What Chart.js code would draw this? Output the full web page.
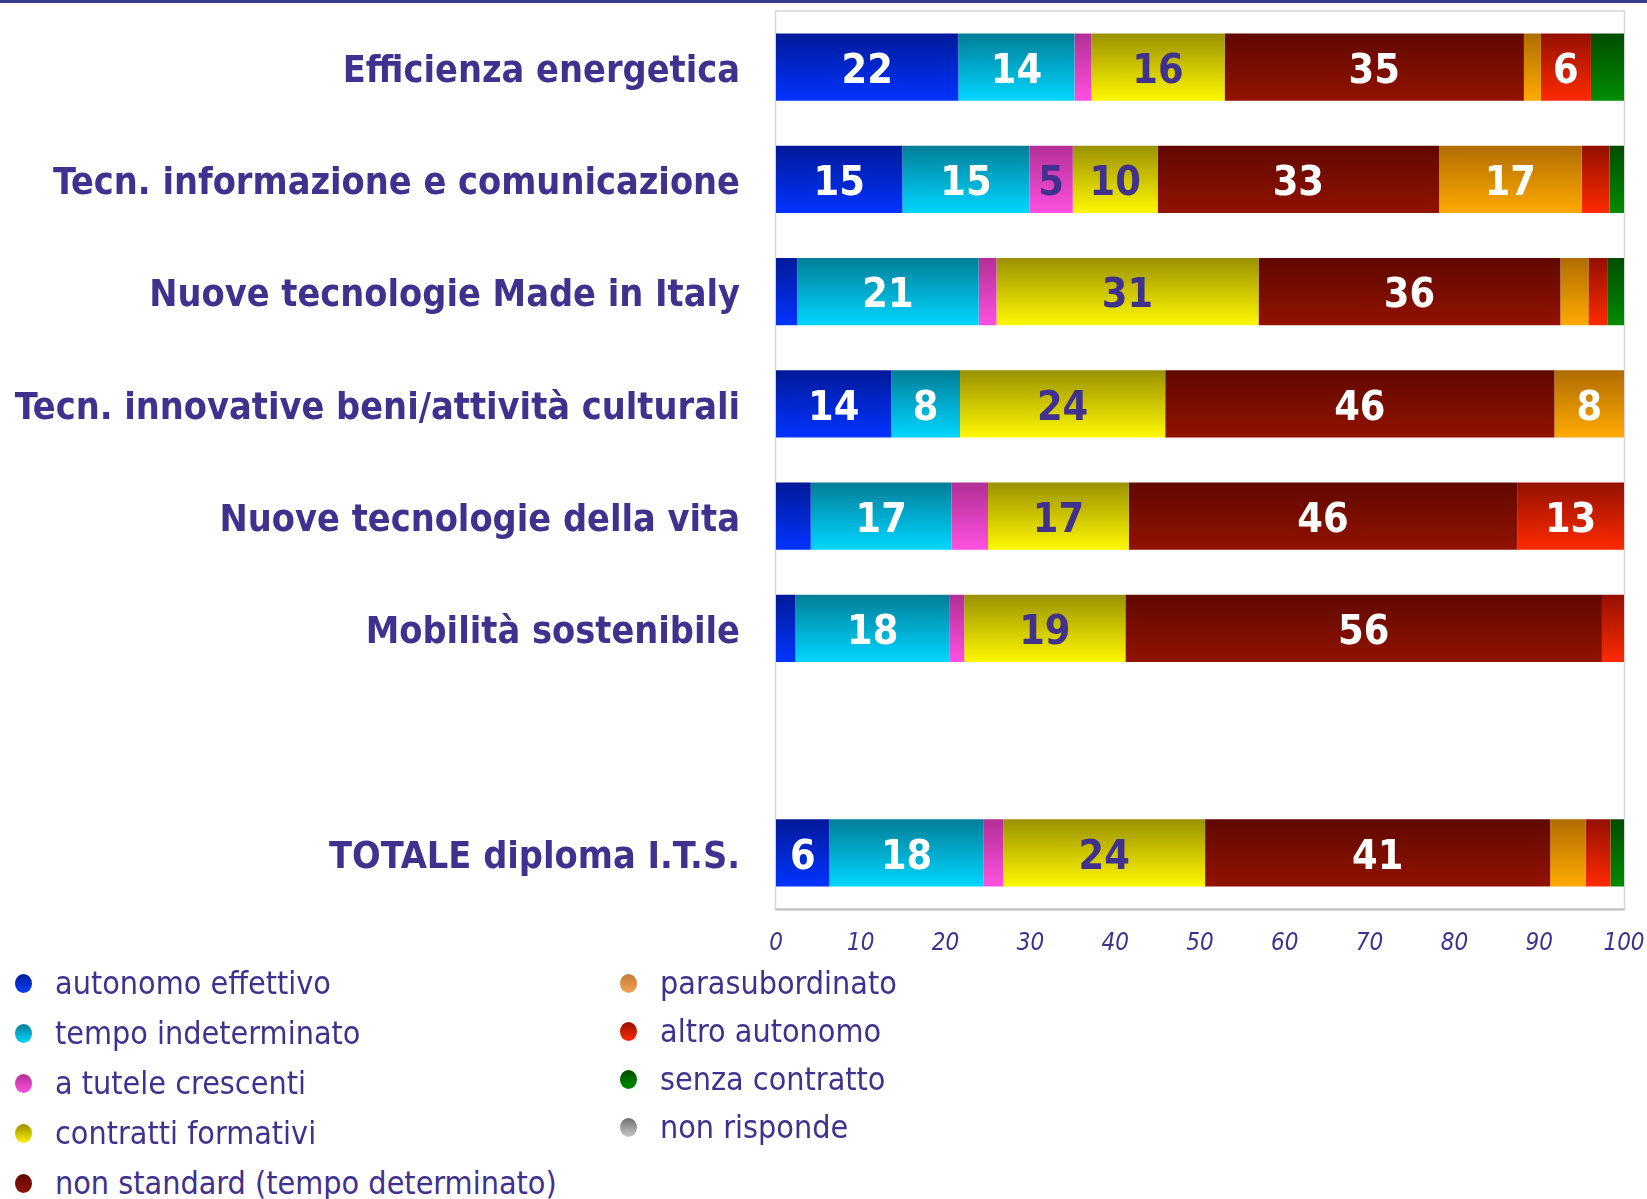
<!DOCTYPE html>
<html>
<head>
<meta charset="utf-8">
<script src="https://cdn.jsdelivr.net/npm/chart.js@4"></script>
<style>
  html, body { margin: 0; padding: 0; background: #fff; }
  body { width: 1647px; height: 1199px; overflow: hidden; position: relative; font-family: "DejaVu Sans Condensed", "DejaVu Sans", sans-serif; }
  .topline { position: absolute; left: 0; top: 0; width: 1647px; height: 3px; background: #3b3d8a; }
  #wrap { position: absolute; left: 0; top: 0; width: 1647px; height: 965px; }
  .legend-col { position: absolute; top: 962px; }
  .legend-item { position: relative; height: 42px; color: #41318f; font-size: 32px; white-space: nowrap; }
  .legend-item .dot { position: absolute; left: 0; top: 12px; width: 17px; height: 19px; border-radius: 50%; }
  .legend-item .txt { position: absolute; left: 40px; top: 0; line-height: 42px; }
</style>
</head>
<body>
<div class="topline"></div>
<div id="wrap"><canvas id="chart"></canvas></div>
<div class="legend-col" id="legend1" style="left:15px"></div>
<div class="legend-col" id="legend2" style="left:620px"></div>
<script>
// categories (empty slot separates the total row)
const categories = [
  'Efficienza energetica',
  'Tecn. informazione e comunicazione',
  'Nuove tecnologie Made in Italy',
  'Tecn. innovative beni/attività culturali',
  'Nuove tecnologie della vita',
  'Mobilità sostenibile',
  '',
  'TOTALE diploma I.T.S.',
];

const seriesNames = [
  'autonomo effettivo',
  'tempo indeterminato',
  'a tutele crescenti',
  'contratti formativi',
  'non standard (tempo determinato)',
  'parasubordinato',
  'altro autonomo',
  'senza contratto',
  'non risponde',
];

// percentages per series, one value per category
const autonomoEffettivo   = [21.5, 14.9, 2.5, 13.6, 4.1, 2.3, null, 6.3];
const tempoIndeterminato  = [13.7, 15.0, 21.4, 8.1, 16.6, 18.2, null, 18.2];
const tuteleCrescenti     = [2.0, 5.1, 2.1, 0, 4.3, 1.7, null, 2.3];
const contrattiFormativi  = [15.7, 10.0, 30.9, 24.2, 16.6, 19.0, null, 23.8];
const nonStandard         = [35.3, 33.2, 35.6, 45.9, 45.8, 56.2, null, 40.7];
const parasubordinato     = [2.0, 16.8, 3.3, 8.2, 0, 0, null, 4.2];
const altroAutonomo       = [5.9, 3.3, 2.3, 0, 12.6, 2.6, null, 2.9];
const senzaContratto      = [3.9, 1.7, 1.9, 0, 0, 0, null, 1.6];
const nonRisponde         = [0, 0, 0, 0, 0, 0, null, 0];

const seriesData = [
  autonomoEffettivo, tempoIndeterminato, tuteleCrescenti, contrattiFormativi,
  nonStandard, parasubordinato, altroAutonomo, senzaContratto, nonRisponde,
];

const xTicks = [0, 10, 20, 30, 40, 50, 60, 70, 80, 90, 100];

// gradient colours: [top, bottom]
const colorTop    = ['#001a99', '#007e98', '#b32f96', '#9a9100', '#600800', '#b06c00', '#941000', '#004d00', '#707070'];
const colorBottom = ['#0033ff', '#00d6ff', '#ff50e0', '#fff800', '#921200', '#ffaa00', '#ff2a00', '#008c00', '#c8c8c8'];
const dotTop      = ['#001a99', '#007e98', '#b32f96', '#9a9100', '#600800', '#c07a3a', '#941000', '#004d00', '#707070'];
const dotBottom   = ['#0040ff', '#00d6ff', '#ff50e0', '#fff000', '#921200', '#f5a550', '#ff2a00', '#008c00', '#c8c8c8'];
const labelColors = ['#fff', '#fff', '#41318f', '#41318f', '#fff', '#fff', '#fff', '#fff', '#fff'];

const PURPLE = '#41318f';
const FONT = '"DejaVu Sans Condensed", "DejaVu Sans", sans-serif';
const BAR_PCT = 0.6;

function barGradient(c, i) {
  const chart = c.chart;
  const area = chart.chartArea;
  const y = chart.scales.y;
  if (!area || !y) return colorBottom[i];
  const center = y.getPixelForValue(c.dataIndex);
  const half = (area.bottom - area.top) / categories.length * BAR_PCT / 2;
  const g = chart.ctx.createLinearGradient(0, center - half, 0, center + half);
  g.addColorStop(0, colorTop[i]);
  g.addColorStop(1, colorBottom[i]);
  return g;
}

const plotFrame = {
  id: 'plotFrame',
  beforeDatasetsDraw(chart) {
    const { ctx, chartArea: a } = chart;
    ctx.save();
    ctx.strokeStyle = '#d6d6d6';
    ctx.lineWidth = 1.5;
    ctx.strokeRect(a.left - 0.5, a.top, a.right - a.left + 1, a.bottom - a.top);
    ctx.strokeStyle = '#c8c8c8';
    ctx.lineWidth = 2.5;
    ctx.beginPath();
    ctx.moveTo(a.left - 1, a.bottom + 0.5);
    ctx.lineTo(a.right + 1, a.bottom + 0.5);
    ctx.stroke();
    ctx.restore();
  },
};

const barLabels = {
  id: 'barLabels',
  afterDatasetsDraw(chart) {
    const ctx = chart.ctx;
    ctx.save();
    ctx.font = 'bold 41px ' + FONT;
    ctx.textAlign = 'center';
    ctx.textBaseline = 'middle';
    chart.data.datasets.forEach((ds, i) => {
      const meta = chart.getDatasetMeta(i);
      meta.data.forEach((bar, j) => {
        const v = ds.data[j];
        if (v == null || v < 4.5) return;
        ctx.fillStyle = labelColors[i];
        ctx.fillText(String(Math.round(v)), (bar.x + bar.base) / 2, bar.y + 5);
      });
    });
    ctx.restore();
  },
};

const datasets = seriesNames.map((name, i) => ({
  label: name,
  data: seriesData[i],
  backgroundColor: (c) => barGradient(c, i),
  borderWidth: 0,
  barPercentage: BAR_PCT,
  categoryPercentage: 1,
}));

new Chart(document.getElementById('chart'), {
  type: 'bar',
  data: { labels: categories, datasets },
  options: {
    indexAxis: 'y',
    responsive: true,
    maintainAspectRatio: false,
    animation: false,
    layout: { padding: { top: 11, right: 23, left: 0, bottom: 0 } },
    plugins: {
      legend: { display: false },
      tooltip: { enabled: false },
    },
    scales: {
      x: {
        stacked: true,
        min: 0,
        max: 100,
        afterBuildTicks: (s) => { s.ticks = xTicks.map(v => ({ value: v })); },
        afterFit: (s) => {
          s.height = 56;
          s.paddingLeft = 0; s.paddingRight = 0;
        },
        grid: { display: false, drawTicks: false },
        border: { display: false },
        ticks: { color: PURPLE, padding: 20, font: { family: FONT, size: 24, style: 'italic' } },
      },
      y: {
        stacked: true,
        afterFit: (s) => {
          s.width = 776;
          s.paddingTop = 0; s.paddingBottom = 0;
        },
        grid: { display: false, drawTicks: false },
        border: { display: false },
        ticks: { color: PURPLE, padding: 36, labelOffset: 5, font: { family: FONT, size: 37.5, weight: 'bold' } },
      },
    },
  },
  plugins: [plotFrame, barLabels],
});

// legend: two columns built from the series list
function buildLegend(el, from, to, rowHeight) {
  for (let i = from; i < to; i++) {
    const item = document.createElement('div');
    item.className = 'legend-item';
    item.style.height = rowHeight + 'px';
    const dot = document.createElement('span');
    dot.className = 'dot';
    dot.style.background = `linear-gradient(${dotTop[i]}, ${dotBottom[i]})`;
    const txt = document.createElement('span');
    txt.className = 'txt';
    txt.textContent = seriesNames[i];
    item.appendChild(dot);
    item.appendChild(txt);
    el.appendChild(item);
  }
}
buildLegend(document.getElementById('legend1'), 0, 5, 50);
buildLegend(document.getElementById('legend2'), 5, 9, 48);
</script>
</body>
</html>
